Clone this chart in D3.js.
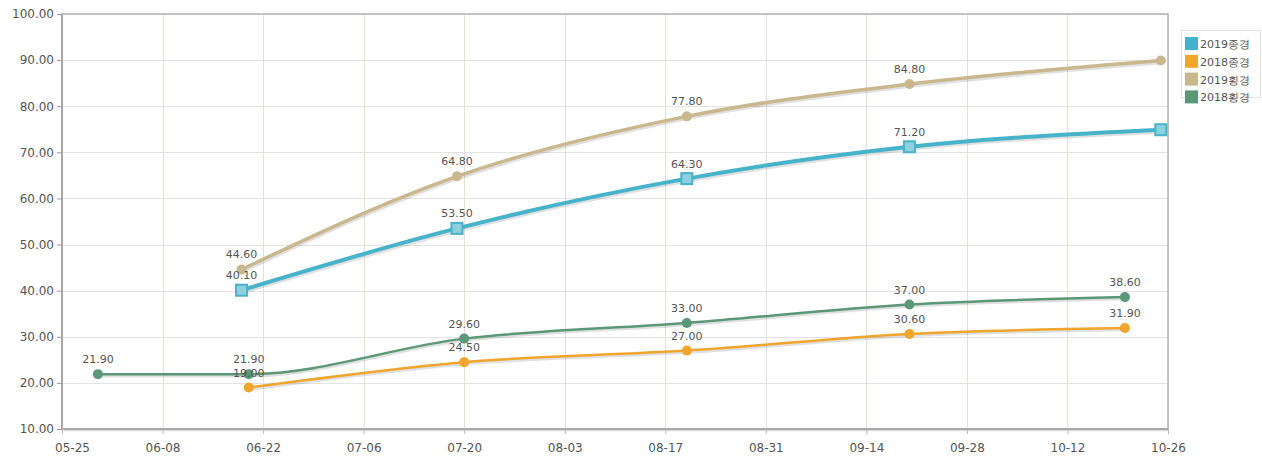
<!DOCTYPE html>
<html>
<head>
<meta charset="utf-8">
<script src="https://cdn.jsdelivr.net/npm/d3@7"></script>
<style>
  body { margin: 0; background: #fff; }
  text { font-family: "DejaVu Sans", Verdana, sans-serif; }
</style>
</head>
<body>
<div id="chart"></div>
<script>
// values
var seriesNames = ['2019종경', '2018종경', '2019횡경', '2018횡경'];
var seriesColors = ['#47b3ca', '#f0a52c', '#c9b88d', '#5a9878'];
var dates2019 = ['06-19', '07-19', '08-20', '09-20', '10-25'];
var dates2018 = ['06-20', '07-20', '08-20', '09-20', '10-20'];
var datesGreen = ['05-30', '06-20', '07-20', '08-20', '09-20', '10-20'];
var zong2019 = [40.1, 53.5, 64.3, 71.2, 74.9];
var zong2018 = [19.0, 24.5, 27.0, 30.6, 31.9];
var hoeng2019 = [44.6, 64.8, 77.8, 84.8, 89.9];
var hoeng2018 = [21.9, 21.9, 29.6, 33.0, 37.0, 38.6];
var xTicks = ['05-25', '06-08', '06-22', '07-06', '07-20', '08-03', '08-17', '08-31', '09-14', '09-28', '10-12', '10-26'];
var yTicks = [10, 20, 30, 40, 50, 60, 70, 80, 90, 100];

var parse = d3.timeParse('%Y-%m-%d');
function toDate(md) { return parse('2019-' + md); }

var width = 1262, height = 463;
var pLeft = 62, pRight = 1168, pTop = 14, pBottom = 429;

var x = d3.scaleTime()
  .domain([toDate('05-25'), toDate('10-26')])
  .range([pLeft, pRight]);
var y = d3.scaleLinear()
  .domain([10, 100])
  .range([pBottom, pTop]);

var svg = d3.select('#chart').append('svg')
  .attr('width', width)
  .attr('height', height);

// grid
svg.append('g').selectAll('line')
  .data(yTicks)
  .enter().append('line')
  .attr('x1', pLeft).attr('x2', pRight)
  .attr('y1', function(d) { return Math.round(y(d)) + 0.5; })
  .attr('y2', function(d) { return Math.round(y(d)) + 0.5; })
  .attr('stroke', '#e4e4e4').attr('stroke-width', 1);
svg.append('g').selectAll('line')
  .data(xTicks)
  .enter().append('line')
  .attr('x1', function(d) { return Math.round(x(toDate(d))) + 0.5; })
  .attr('x2', function(d) { return Math.round(x(toDate(d))) + 0.5; })
  .attr('y1', pTop).attr('y2', pBottom)
  .attr('stroke', '#e3e1d8').attr('stroke-width', 1);

// frame
svg.append('rect')
  .attr('x', pLeft).attr('y', pTop)
  .attr('width', pRight - pLeft).attr('height', pBottom - pTop)
  .attr('fill', 'none').attr('stroke', '#b4b4b4').attr('stroke-width', 1.5);
svg.append('line')
  .attr('x1', pLeft + 1.5).attr('x2', pRight).attr('y1', pBottom + 1.5).attr('y2', pBottom + 1.5)
  .attr('stroke', '#dcdcdc').attr('stroke-width', 1.5);
svg.append('line')
  .attr('x1', pLeft).attr('x2', pLeft).attr('y1', pTop).attr('y2', pBottom)
  .attr('stroke', '#a8a8a8').attr('stroke-width', 2);
svg.append('line')
  .attr('x1', pLeft).attr('x2', pRight).attr('y1', pBottom).attr('y2', pBottom)
  .attr('stroke', '#a8a8a8').attr('stroke-width', 2);

// y axis
var yAxis = d3.axisLeft(y)
  .tickValues(yTicks)
  .tickSize(5)
  .tickFormat(d3.format('.2f'));
var gy = svg.append('g')
  .attr('transform', 'translate(' + pLeft + ',0)')
  .call(yAxis);
gy.select('.domain').remove();
gy.selectAll('line').attr('stroke', '#999');
gy.selectAll('text')
  .attr('fill', '#555')
  .style('font-size', '12px')
  .attr('x', -8);

// x axis
var xAxis = d3.axisBottom(x)
  .tickValues(xTicks.map(toDate))
  .tickSize(5)
  .tickFormat(d3.timeFormat('%m-%d'));
var gx = svg.append('g')
  .attr('transform', 'translate(0,' + pBottom + ')')
  .call(xAxis);
gx.select('.domain').remove();
gx.selectAll('line').attr('stroke', '#bbb');
gx.selectAll('text')
  .attr('fill', '#555')
  .style('font-size', '12px')
  .attr('y', 14);
gx.selectAll('.tick').filter(function(d, i) { return i === 0; })
  .select('text').attr('x', 10);

var series = [
  { name: seriesNames[2], color: seriesColors[2], dates: dates2019, values: hoeng2019, width: 3.5, marker: 'circle', labels: 4 },
  { name: seriesNames[0], color: seriesColors[0], dates: dates2019, values: zong2019, width: 4, marker: 'square', labels: 4 },
  { name: seriesNames[3], color: seriesColors[3], dates: datesGreen, values: hoeng2018, width: 2.5, marker: 'circle', labels: 6 },
  { name: seriesNames[1], color: seriesColors[1], dates: dates2018, values: zong2018, width: 2.5, marker: 'circle', labels: 5 }
];

var line = d3.line()
  .curve(d3.curveMonotoneX)
  .x(function(d) { return x(d.date); })
  .y(function(d) { return y(d.value); });

var plot = svg.append('g');
series.forEach(function(s) {
  var pts = s.values.map(function(v, i) { return { date: toDate(s.dates[i]), value: v }; });
  var g = plot.append('g');
  // shadow
  g.append('path')
    .datum(pts)
    .attr('d', line)
    .attr('transform', 'translate(1,1.5)')
    .attr('fill', 'none')
    .attr('stroke', 'rgba(0,0,0,0.12)')
    .attr('stroke-width', s.width + 1);
  g.append('path')
    .datum(pts)
    .attr('d', line)
    .attr('fill', 'none')
    .attr('stroke', s.color)
    .attr('stroke-width', s.width)
    .attr('stroke-linejoin', 'round');
  if (s.marker === 'square') {
    g.selectAll('rect').data(pts).enter().append('rect')
      .attr('x', function(d) { return x(d.date) - 5.5; })
      .attr('y', function(d) { return y(d.value) - 5.5; })
      .attr('width', 11).attr('height', 11)
      .attr('fill', '#8dd0e0')
      .attr('stroke', s.color).attr('stroke-width', 2);
  } else {
    g.selectAll('circle').data(pts).enter().append('circle')
      .attr('cx', function(d) { return x(d.date); })
      .attr('cy', function(d) { return y(d.value); })
      .attr('r', 5)
      .attr('fill', s.color);
  }
  g.selectAll('text').data(pts.slice(0, s.labels)).enter().append('text')
    .attr('x', function(d) { return x(d.date); })
    .attr('y', function(d) { return y(d.value) - 11; })
    .attr('text-anchor', 'middle')
    .attr('fill', '#555')
    .style('font-size', '11px')
    .text(function(d) { return d3.format('.2f')(d.value); });
});

// legend
var lg = svg.append('g').attr('transform', 'translate(1181,30)');
lg.append('rect')
  .attr('x', 0.5).attr('y', 0.5)
  .attr('width', 79).attr('height', 67)
  .attr('fill', '#fff').attr('stroke', '#e2e2e2');
seriesNames.forEach(function(n, i) {
  var row = lg.append('g').attr('transform', 'translate(4,' + (7 + i * 17.8) + ')');
  row.append('rect')
    .attr('width', 13).attr('height', 13)
    .attr('fill', seriesColors[i]);
  row.append('text')
    .attr('x', 15).attr('y', 11)
    .attr('fill', '#555')
    .style('font-size', '11px')
    .text(n);
});
</script>
</body>
</html>
